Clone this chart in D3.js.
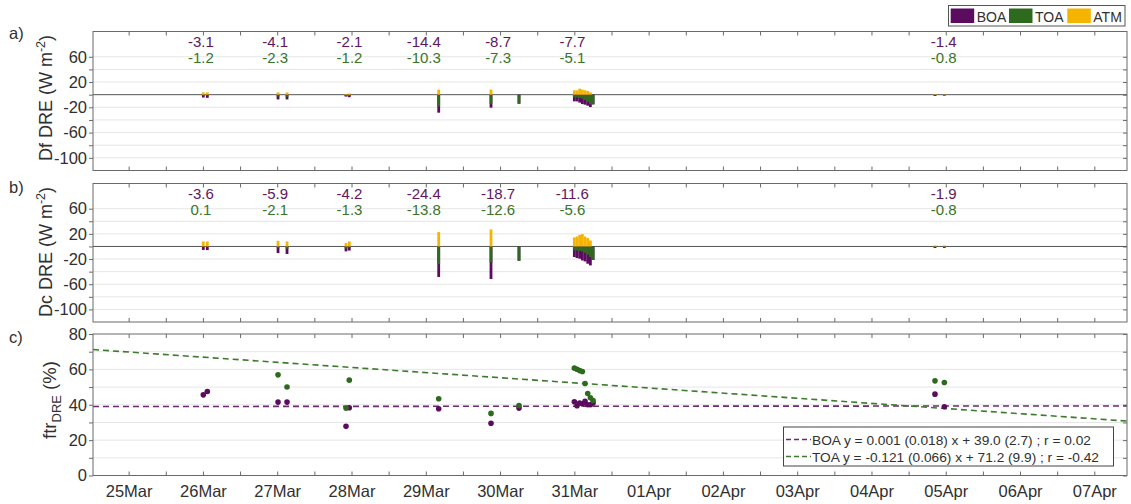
<!DOCTYPE html>
<html><head><meta charset="utf-8">
<script src="https://cdn.jsdelivr.net/npm/d3@7"></script>
<style>
body{margin:0;background:#fff;}
text{font-family:"Liberation Sans",Arial,sans-serif;}
</style>
</head><body>
<svg id="chart" width="1131" height="504"></svg>
<script>
// ---- data (time in day-of-March units; 32 = 01Apr) ----
const times = [26.005, 26.059, 27.011, 27.132, 27.926, 27.970, 29.174, 29.878, 30.255,
  31.000, 31.036, 31.072, 31.108, 31.144, 31.180, 31.216, 31.252, 35.855, 35.981];
// Panel a: Df DRE (W m-2)
const dfBOA = [-4.5, -5.0, -7.5, -7.5, -3.0, -4.0, -28.5, -20.6, -14.2,
  -10.5, -10.6, -12.5, -14.8, -15.8, -17.4, -19.6, -15.3, -2.0, -1.5];
const dfTOA = [-1.5, -1.0, -3.0, -3.5, -2.0, -2.2, -18.5, -14.3, -14.3,
  -4.2, -4.3, -5.1, -6.1, -8.3, -11.5, -15.0, -15.3, -1.0, -0.8];
const dfATM = [3.6, 3.6, 3.7, 3.5, 1.2, 1.8, 8.0, 8.0, 0.0,
  6.9, 6.9, 9.5, 8.0, 7.0, 5.8, 3.7, 0.0, 1.0, 0.7];
// Panel b: Dc DRE (W m-2)
const dcBOA = [-5.5, -5.8, -10.5, -12.0, -7.8, -6.5, -48.5, -51.7, -22.7,
  -16.8, -18.4, -19.5, -22.2, -23.8, -27.4, -30.1, -21.5, -2.5, -2.3];
const dcTOA = [0.2, 0.0, -2.3, -3.5, -3.2, -1.9, -27.9, -25.4, -22.7,
  -6.0, -6.5, -7.0, -8.0, -10.0, -13.0, -17.0, -21.5, -1.0, -0.8];
const dcATM = [7.9, 7.9, 9.0, 8.0, 5.4, 8.0, 22.8, 27.0, 0.0,
  14.3, 15.8, 18.5, 19.6, 15.8, 13.3, 9.5, 0.0, 1.5, 1.5];
// Panel c: ftr DRE (%)
const ftrBOA = [45.6, 47.5, 41.5, 41.5, 27.8, 38.3, 37.7, 29.5, 38.1,
  41.7, 39.4, 41.0, 40.5, 41.9, 40.0, 40.0, 41.0, 46.0, 38.9];
const ftrTOA = [null, null, 56.9, 50.0, 38.1, 53.9, 43.4, 35.1, 39.6,
  60.7, 60.1, 59.3, 58.8, 52.0, 46.4, 43.9, 42.4, 53.5, 52.6];
// Daily mean annotations
const meanDays = [26, 27, 28, 29, 30, 31, 36];
const dfBOAmean = [-3.1, -4.1, -2.1, -14.4, -8.7, -7.7, -1.4];
const dfTOAmean = [-1.2, -2.3, -1.2, -10.3, -7.3, -5.1, -0.8];
const dcBOAmean = [-3.6, -5.9, -4.2, -24.4, -18.7, -11.6, -1.9];
const dcTOAmean = [0.1, -2.1, -1.3, -13.8, -12.6, -5.6, -0.8];
// Fits: y = slope * (hours since axis start) + intercept
const fitNames = ["BOA", "TOA"];
const fitSlope = [0.001, -0.121];
const fitIntercept = [39.0, 71.2];
const fitText = ["BOA y = 0.001 (0.018) x + 39.0 (2.7) ; r = 0.02",
  "TOA y = -0.121 (0.066) x + 71.2 (9.9) ; r = -0.42"];
// Axis ticks
const tickDays = [25,26,27,28,29,30,31,32,33,34,35,36,37,38];
const tickLabels = ["25Mar","26Mar","27Mar","28Mar","29Mar","30Mar","31Mar",
  "01Apr","02Apr","03Apr","04Apr","05Apr","06Apr","07Apr"];
const dreTicks = [-100,-80,-60,-40,-20,0,20,40,60];
const dreLabels = [-100,-60,-20,20,60];
const ftrTicks = [0,10,20,30,40,50,60,70,80];
const ftrLabels = [0,20,40,60,80];
const legendNames = ["BOA","TOA","ATM"];

// ---- styles ----
const cBOA = "#5c0c5e", cTOA = "#2e6a1e", cATM = "#f5b400";
const cBOAtxt = "#5e1662", cTOAtxt = "#3a7428";
const axisCol = "#6a6a6a", gridCol = "#e6e6e6", txtCol = "#303030";

const svg = d3.select("#chart");
const L = 93, R = 1127;
const domain = [24.52, 38.44];
const x = d3.scaleLinear().domain(domain).range([L, R]);
const yA = d3.scaleLinear().domain([-120, 100]).range([170.5, 31.5]);
const yB = d3.scaleLinear().domain([-120, 100]).range([322, 183.5]);
const yC = d3.scaleLinear().domain([0, 80]).range([475.5, 334]);
const halfDays = d3.range(25, 38.01, 0.5);

function frame(y, ticks, labels, gridVals, showX) {
  const g = svg.append("g");
  const [b, t] = y.range();
  g.selectAll(".grid").data(gridVals).enter().append("line")
    .attr("x1", L).attr("x2", R).attr("y1", d => y(d)).attr("y2", d => y(d))
    .attr("stroke", gridCol).attr("stroke-width", 1);
  const la = d3.axisLeft(y).tickValues(ticks).tickSizeInner(4).tickSizeOuter(0).tickPadding(2)
    .tickFormat(d => labels.includes(d) ? d : "");
  const lg = g.append("g").attr("transform", `translate(${L},0)`).call(la);
  lg.select(".domain").remove();
  lg.selectAll("line").attr("stroke", axisCol);
  lg.selectAll("text").attr("font-size", 16.5).attr("fill", txtCol)
    .attr("font-family", "Liberation Sans, Arial, sans-serif");
  const ra = d3.axisRight(y).tickValues(ticks).tickSizeInner(-4).tickSizeOuter(0).tickFormat("");
  const rg = g.append("g").attr("transform", `translate(${R},0)`).call(ra);
  rg.select(".domain").remove(); rg.selectAll("line").attr("stroke", axisCol);
  const ta = d3.axisTop(x).tickValues(halfDays).tickSizeInner(-4).tickSizeOuter(0).tickFormat("");
  const tg = g.append("g").attr("transform", `translate(0,${t})`).call(ta);
  tg.select(".domain").remove(); tg.selectAll("line").attr("stroke", axisCol);
  const ba = d3.axisBottom(x).tickValues(halfDays).tickSizeInner(-4).tickSizeOuter(0).tickPadding(10)
    .tickFormat(d => {
      if (!showX) return "";
      const i = tickDays.indexOf(d);
      return i >= 0 ? tickLabels[i] : "";
    });
  const bg = g.append("g").attr("transform", `translate(0,${b})`).call(ba);
  bg.select(".domain").remove(); bg.selectAll("line").attr("stroke", axisCol);
  bg.selectAll("text").attr("font-size", 16.5).attr("fill", txtCol)
    .attr("font-family", "Liberation Sans, Arial, sans-serif");
  return g;
}

function box(y) {
  const [b, t] = y.range();
  svg.append("rect").attr("x", L).attr("y", t).attr("width", R - L).attr("height", b - t)
    .attr("fill", "none").attr("stroke", axisCol).attr("stroke-width", 1);
}

function barPanel(y, boa, toa, atm, mBOA, mTOA) {
  frame(y, dreTicks, dreLabels, dreTicks.filter(d => d !== 0), false);
  svg.append("line").attr("x1", L).attr("x2", R).attr("y1", y(0)).attr("y2", y(0))
    .attr("stroke", "#555").attr("stroke-width", 1);
  const w = 2.8;
  const g = svg.append("g");
  const series = [[boa, cBOA], [toa, cTOA], [atm, cATM]];
  series.forEach(([vals, col]) => {
    g.selectAll(null).data(times.map((t, i) => [t, vals[i]])).enter().append("rect")
      .attr("x", d => x(d[0]) - w / 2).attr("width", w)
      .attr("y", d => Math.min(y(0), y(d[1])))
      .attr("height", d => Math.abs(y(d[1]) - y(0)))
      .attr("fill", col);
  });
  const t = y.range()[1];
  svg.selectAll(null).data(meanDays.map((d, i) => [d, mBOA[i]])).enter().append("text")
    .attr("x", d => x(d[0]) - 2).attr("y", t + 15).attr("text-anchor", "middle")
    .attr("font-size", 15).attr("fill", cBOAtxt).text(d => d[1].toFixed(1));
  svg.selectAll(null).data(meanDays.map((d, i) => [d, mTOA[i]])).enter().append("text")
    .attr("x", d => x(d[0]) - 2).attr("y", t + 31).attr("text-anchor", "middle")
    .attr("font-size", 15).attr("fill", cTOAtxt).text(d => d[1].toFixed(1));
  box(y);
}

barPanel(yA, dfBOA, dfTOA, dfATM, dfBOAmean, dfTOAmean);
barPanel(yB, dcBOA, dcTOA, dcATM, dcBOAmean, dcTOAmean);

// Panel c
frame(yC, ftrTicks, ftrLabels, ftrTicks.filter(d => d !== 0 && d !== 80), true);
const fitCols = ["#6a2a6c", "#3d7a2d"];
const hours = (domain[1] - domain[0]) * 24;
fitNames.forEach((n, i) => {
  svg.append("line")
    .attr("x1", x(domain[0])).attr("y1", yC(fitIntercept[i]))
    .attr("x2", x(domain[1])).attr("y2", yC(fitIntercept[i] + fitSlope[i] * hours))
    .attr("stroke", fitCols[i]).attr("stroke-width", 1.6).attr("stroke-dasharray", "6,4");
});
const pts = svg.append("g");
pts.selectAll(null).data(times.map((t, i) => [t, ftrBOA[i]]).filter(d => d[1] != null))
  .enter().append("circle").attr("cx", d => x(d[0])).attr("cy", d => yC(d[1])).attr("r", 2.8)
  .attr("fill", cBOA);
pts.selectAll(null).data(times.map((t, i) => [t, ftrTOA[i]]).filter(d => d[1] != null))
  .enter().append("circle").attr("cx", d => x(d[0])).attr("cy", d => yC(d[1])).attr("r", 2.8)
  .attr("fill", cTOA);
box(yC);

// Fit legend
const lg2 = svg.append("g");
lg2.append("rect").attr("x", 783.5).attr("y", 427).attr("width", 330).attr("height", 39)
  .attr("fill", "#fff").attr("stroke", "#444").attr("stroke-width", 1);
fitText.forEach((s, i) => {
  const yy = 439.5 + i * 17;
  lg2.append("line").attr("x1", 786).attr("x2", 811).attr("y1", yy).attr("y2", yy)
    .attr("stroke", fitCols[i]).attr("stroke-width", 1.6).attr("stroke-dasharray", "5,3");
  lg2.append("text").attr("x", 812).attr("y", yy + 5).attr("font-size", 13.7)
    .attr("fill", txtCol).text(s);
});

// Top legend
const lg1 = svg.append("g");
lg1.append("rect").attr("x", 948.5).attr("y", 5.5).attr("width", 176.5).attr("height", 20.5)
  .attr("fill", "#fff").attr("stroke", "#555").attr("stroke-width", 1);
const sw = [950.7, 1009, 1067.3];
[cBOA, cTOA, cATM].forEach((c, i) => {
  lg1.append("rect").attr("x", sw[i]).attr("y", 8.5).attr("width", 23.5).attr("height", 14.5).attr("fill", c);
  lg1.append("text").attr("x", sw[i] + 26).attr("y", 21.5).attr("font-size", 14)
    .attr("fill", txtCol).text(legendNames[i]);
});

// Panel letters
[["a)", 39], ["b)", 193], ["c)", 343]].forEach(([s, yy]) => {
  svg.append("text").attr("x", 9).attr("y", yy).attr("font-size", 16.5).attr("fill", txtCol).text(s);
});

// Y titles
function ytitle(cx, cy, fs, parts) {
  const t = svg.append("text").attr("transform", `translate(${cx},${cy}) rotate(-90)`)
    .attr("text-anchor", "middle").attr("font-size", fs).attr("fill", txtCol);
  parts.forEach(p => t.append("tspan").attr("dy", p.dy || 0).attr("font-size", p.fs || fs).text(p.s));
}
ytitle(52, 98, 18, [{s: "Df DRE (W m"}, {s: "-2", dy: -7, fs: 12.5}, {s: ")", dy: 7}]);
ytitle(52, 252, 18, [{s: "Dc DRE (W m"}, {s: "-2", dy: -7, fs: 12.5}, {s: ")", dy: 7}]);
ytitle(56, 400, 18.5, [{s: "ftr"}, {s: "DRE", dy: 5, fs: 13}, {s: " (%)", dy: -5}]);
</script>
</body></html>
